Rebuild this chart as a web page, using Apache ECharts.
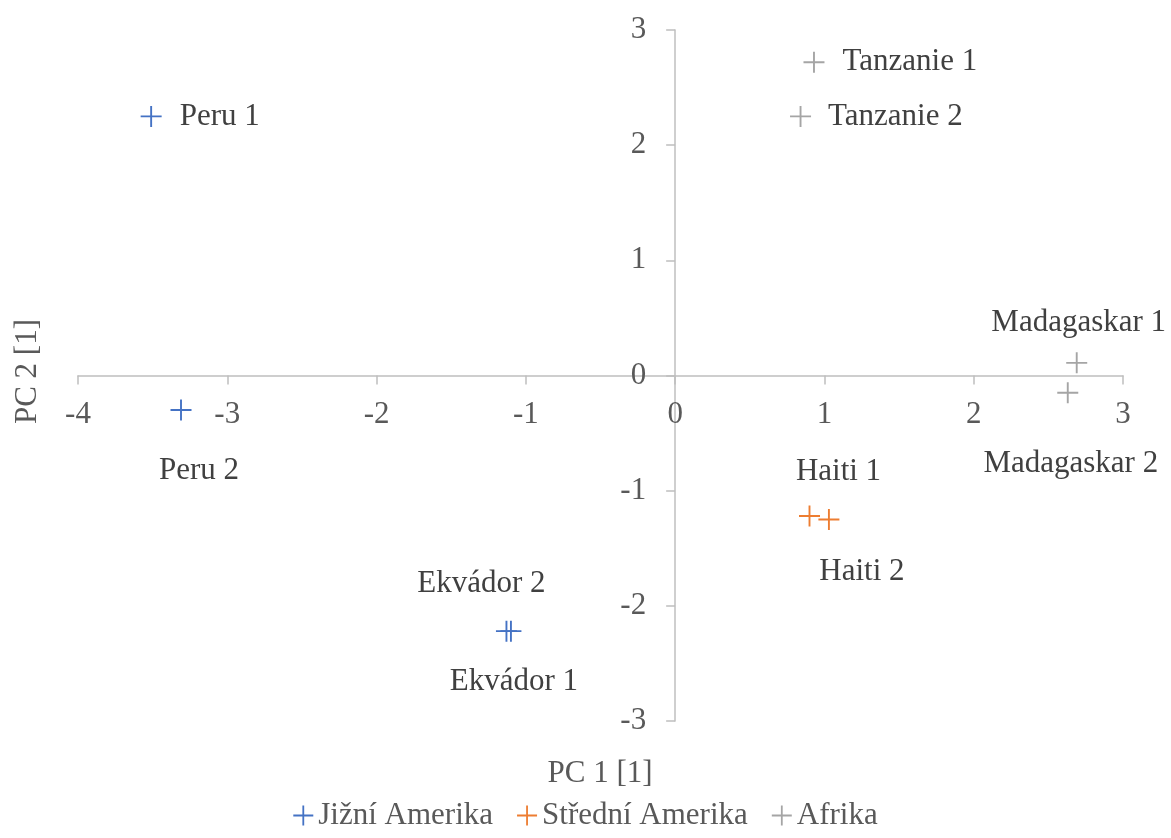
<!DOCTYPE html>
<html>
<head>
<meta charset="utf-8">
<script src="https://cdn.jsdelivr.net/npm/echarts@6/dist/echarts.min.js"></script>
<style>
  html, body { margin: 0; padding: 0; background: #ffffff; }
  #chart { width: 1171px; height: 838px; }
</style>
</head>
<body>
<div id="chart"></div>
<script>
// ---- Data ----
const seriesNames = ["Jižní Amerika", "Střední Amerika", "Afrika"];

const southNames = ["Peru 1", "Peru 2", "Ekvádor 1", "Ekvádor 2"];
const southX = [-3.51, -3.31, -1.10, -1.13];
const southY = [2.25, -0.30, -2.22, -2.22];

const centralNames = ["Haiti 1", "Haiti 2"];
const centralX = [0.90, 1.03];
const centralY = [-1.22, -1.25];

const africaNames = ["Tanzanie 1", "Tanzanie 2", "Madagaskar 1", "Madagaskar 2"];
const africaX = [0.93, 0.84, 2.69, 2.63];
const africaY = [2.72, 2.25, 0.11, -0.15];

const xTicks = { min: -4, max: 3, interval: 1 };
const yTicks = { min: -3, max: 3, interval: 1 };
const xAxisName = "PC 1 [1]";
const yAxisName = "PC 2 [1]";

// ---- Styling ----
const FONT = "'Liberation Serif', 'Times New Roman', serif";
const colors = ["#4472C4", "#ED7D31", "#A5A5A5"];
const plus = "path://M45.5,0h9v45.5h45.5v9h-45.5v45.5h-9v-45.5h-45.5v-9h45.5z";

// label placement (styling) for each point: offset of label centre from marker centre
const labelPlacement = {
  "Peru 1": { position: "right", distance: 18 },
  "Peru 2": { position: "inside", offset: [18, 61] },
  "Ekvádor 1": { position: "inside", offset: [3, 51] },
  "Ekvádor 2": { position: "inside", offset: [-25, -47] },
  "Haiti 1": { position: "inside", offset: [29, -44] },
  "Haiti 2": { position: "inside", offset: [33, 52] },
  "Tanzanie 1": { position: "right", distance: 18 },
  "Tanzanie 2": { position: "right", distance: 17 },
  "Madagaskar 1": { position: "inside", offset: [2, -40] },
  "Madagaskar 2": { position: "inside", offset: [3, 71] }
};

function buildData(names, xs, ys) {
  return names.map((n, i) => ({
    name: n,
    value: [xs[i], ys[i]],
    label: Object.assign({ show: true }, labelPlacement[n])
  }));
}

const seriesData = [
  buildData(southNames, southX, southY),
  buildData(centralNames, centralX, centralY),
  buildData(africaNames, africaX, africaY)
];

const chart = echarts.init(document.getElementById("chart"), null, { renderer: "canvas" });

const axisLineStyle = { color: "#BFBFBF", width: 1.5 };
const GRID = { left: 78, right: 48, top: 30, bottom: 117 };

const option = {
  animation: false,
  backgroundColor: "#ffffff",
  textStyle: { fontFamily: FONT },
  grid: Object.assign({ containLabel: false }, GRID),
  legend: {
    data: seriesNames,
    top: 795,
    left: "center",
    itemWidth: 20,
    itemHeight: 20,
    itemGap: 24,
    textStyle: { fontFamily: FONT, fontSize: 31, color: "#595959" }
  },
  graphic: [
    {
      type: "text",
      left: GRID.left + (1171 - GRID.left - GRID.right) / 2 - 53,
      top: 758,
      style: { text: xAxisName, font: "31px " + FONT, fill: "#595959" }
    },
    {
      type: "text",
      rotation: Math.PI / 2,
      left: 12,
      top: 319,
      style: { text: yAxisName, font: "31px " + FONT, fill: "#595959" }
    }
  ],
  xAxis: {
    type: "value",
    position: "bottom",
    min: xTicks.min, max: xTicks.max, interval: xTicks.interval,
    axisLine: { show: true, onZero: false, lineStyle: axisLineStyle },
    axisTick: { show: true, length: 9, lineStyle: axisLineStyle },
    axisLabel: { fontFamily: FONT, fontSize: 31, color: "#595959", margin: 24 },
    splitLine: { show: false }
  },
  yAxis: {
    type: "value",
    position: "left",
    min: yTicks.min, max: yTicks.max, interval: yTicks.interval,
    axisLine: { show: true, onZero: false, lineStyle: axisLineStyle },
    axisTick: { show: true, length: 9, lineStyle: axisLineStyle },
    axisLabel: { fontFamily: FONT, fontSize: 31, color: "#595959", margin: 29 },
    splitLine: { show: false }
  },
  series: seriesNames.map((name, i) => ({
    name: name,
    type: "scatter",
    symbol: plus,
    symbolSize: 21,
    itemStyle: { color: colors[i], opacity: 1 },
    label: {
      show: true,
      formatter: "{b}",
      fontFamily: FONT,
      fontSize: 31,
      color: "#404040"
    },
    emphasis: { disabled: true },
    data: seriesData[i]
  }))
};

chart.setOption(option);

// Move both axes (line, ticks and labels) to cross at the origin,
// using the library's own scales to find where 0 lies.
const origin = chart.convertToPixel({ gridIndex: 0 }, [0, 0]);
const gridBottomPx = chart.getHeight() - GRID.bottom;
chart.setOption({
  xAxis: { offset: -(gridBottomPx - origin[1]) },
  yAxis: { offset: -(origin[0] - GRID.left) }
});
</script>
</body>
</html>
